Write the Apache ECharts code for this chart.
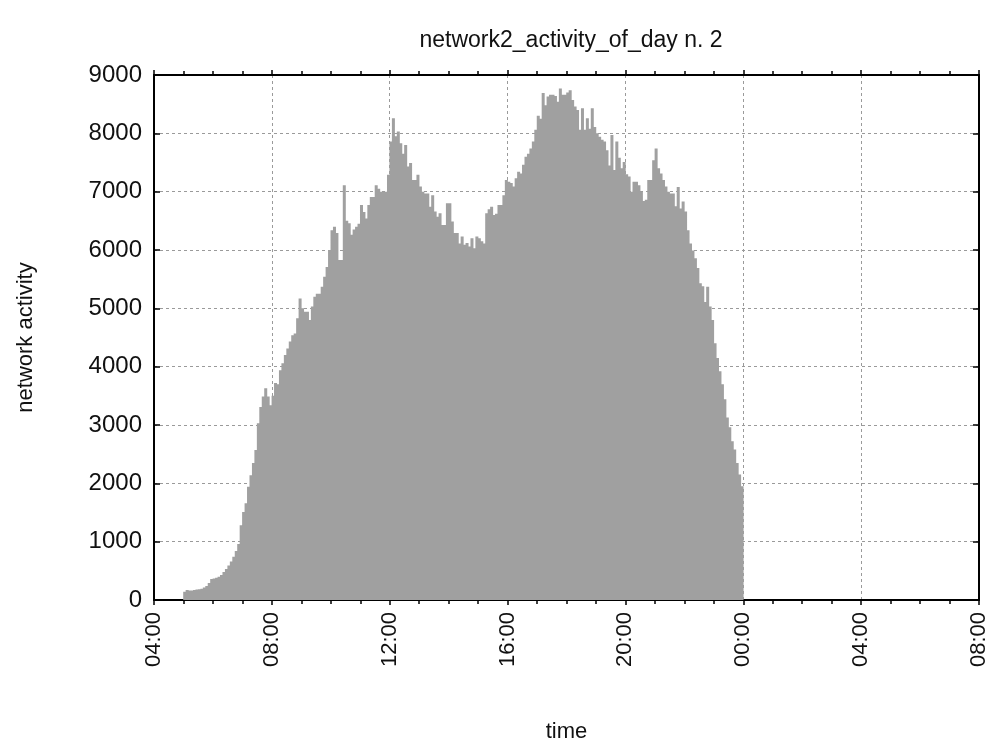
<!DOCTYPE html>
<html>
<head>
<meta charset="utf-8">
<script src="https://cdn.jsdelivr.net/npm/echarts@6/dist/echarts.min.js"></script>
<style>
  html, body { margin: 0; padding: 0; background: #fff; }
  #chart { width: 991px; height: 745px; }
</style>
</head>
<body>
<div id="chart"></div>
<script>
// Network activity per 5-minute bin, day 2
const chartTitle = 'network2_activity_of_day n. 2';
const xAxisName = 'time';
const yAxisName = 'network activity';

const firstBinHour = 5;     // first bin starts at 05:00
const binMinutes = 5;       // width of each bin

const xTickLabels = ['04:00', '08:00', '12:00', '16:00', '20:00', '00:00', '04:00', '08:00'];
const yTickValues = [0, 1000, 2000, 3000, 4000, 5000, 6000, 7000, 8000, 9000];

const activity = [
  // 05:00
  140, 170, 165, 165, 170, 180, 185, 195, 215, 240, 290, 360,
  // 06:00
  370, 380, 400, 430, 480, 530, 590, 660, 740, 840, 960, 1280,
  // 07:00
  1510, 1660, 1940, 2140, 2350, 2570, 3030, 3310, 3490, 3630, 3490, 3340,
  // 08:00
  3500, 3720, 3700, 3940, 4060, 4200, 4310, 4430, 4540, 4570, 4830, 5170,
  // 09:00
  5000, 4940, 4940, 4800, 5030, 5200, 5250, 5250, 5370, 5540, 5710, 6000,
  // 10:00
  6340, 6400, 6290, 5830, 5830, 7110, 6500, 6460, 6260, 6350, 6400, 6450,
  // 11:00
  6770, 6650, 6540, 6770, 6910, 6910, 7110, 7050, 7000, 7000, 7000, 7290,
  // 12:00
  7860, 8260, 7950, 8030, 7830, 7650, 7800, 7430, 7490, 7200, 7200, 7290,
  // 13:00
  7090, 7000, 6970, 6970, 6740, 6940, 6660, 6570, 6630, 6430, 6430, 6800,
  // 14:00
  6800, 6490, 6290, 6290, 6110, 6230, 6090, 6120, 6060, 6200, 6030, 6230,
  // 15:00
  6200, 6150, 6110, 6630, 6700, 6740, 6600, 6620, 6770, 6770, 6940, 7200,
  // 16:00
  7170, 7150, 7090, 7230, 7340, 7310, 7460, 7600, 7650, 7740, 7860, 8060,
  // 17:00
  8300, 8250, 8690, 8480, 8630, 8660, 8660, 8640, 8540, 8770, 8660, 8660,
  // 18:00
  8700, 8740, 8570, 8460, 8400, 8060, 8430, 8060, 8260, 8080, 8430, 8110,
  // 19:00
  8000, 7940, 7890, 7860, 7710, 7450, 7970, 7370, 7860, 7580, 7400, 7510,
  // 20:00
  7300, 7260, 7000, 7170, 7170, 7110, 7000, 6840, 6860, 7200, 7200, 7540,
  // 21:00
  7740, 7400, 7310, 7200, 7090, 7000, 6970, 6970, 6750, 7080, 6710, 6830,
  // 22:00
  6660, 6340, 6110, 5990, 5860, 5690, 5430, 5380, 5110, 5370, 5030, 4800,
  // 23:00
  4400, 4150, 3920, 3700, 3440, 3130, 2960, 2720, 2580, 2350, 2150, 1950
];

// x is hours since midnight of the day (04:00 .. 08:00 next day = 4 .. 32)
const barData = activity.map((v, i) => [firstBinHour + (i + 0.5) * binMinutes / 60, v]);

const FONT = '"Liberation Sans", Arial, Helvetica, sans-serif';
const INK = '#111';
const gridLine = { show: true, lineStyle: { color: '#9a9a9a', width: 1, type: [3, 3] } };
const frame = { show: true, onZero: false, lineStyle: { color: '#000', width: 2 } };

const chart = echarts.init(document.getElementById('chart'), null, { renderer: 'canvas' });
chart.setOption({
  animation: false,
  backgroundColor: '#fff',
  title: {
    text: chartTitle,
    left: 566,
    top: 24,
    textAlign: 'center',
    textStyle: { fontFamily: FONT, fontSize: 23, fontWeight: 'normal', color: INK }
  },
  grid: { left: 154, right: 12, top: 75, bottom: 145, containLabel: false, outerBoundsMode: 'none' },
  xAxis: [
    {
      type: 'value', position: 'bottom', min: 4, max: 32, interval: 4,
      name: xAxisName, nameLocation: 'middle', nameGap: 121,
      nameTextStyle: { fontFamily: FONT, fontSize: 22, color: INK },
      axisLine: frame,
      axisTick: { show: true, inside: false, length: 5, lineStyle: { color: '#000', width: 1.5 } },
      minorTick: { show: true, splitNumber: 4, length: 4, lineStyle: { color: '#000', width: 1.5 } },
      axisLabel: {
        rotate: 90, margin: 12, fontFamily: FONT, fontSize: 22, color: INK,
        formatter: v => xTickLabels[Math.round((v - 4) / 4)]
      },
      splitLine: gridLine
    },
    {
      type: 'value', position: 'top', min: 4, max: 32, interval: 4,
      axisLine: frame,
      axisTick: { show: true, inside: false, length: 5, lineStyle: { color: '#000', width: 1.5 } },
      minorTick: { show: true, splitNumber: 4, length: 4, lineStyle: { color: '#000', width: 1.5 } },
      axisLabel: { show: false },
      splitLine: { show: false }
    }
  ],
  yAxis: [
    {
      type: 'value', position: 'left', min: 0, max: 9000, interval: 1000,
      name: yAxisName, nameLocation: 'middle', nameGap: 117,
      nameTextStyle: { fontFamily: FONT, fontSize: 22, color: INK },
      axisLine: frame,
      axisTick: { show: true, inside: true, length: 6, lineStyle: { color: '#000', width: 1.5 } },
      axisLabel: {
        margin: 12, fontFamily: FONT, fontSize: 24, color: INK,
        formatter: v => (yTickValues.indexOf(v) >= 0 ? String(v) : '')
      },
      splitLine: gridLine
    },
    {
      type: 'value', position: 'right', min: 0, max: 9000, interval: 1000,
      axisLine: frame,
      axisTick: { show: true, inside: true, length: 6, lineStyle: { color: '#000', width: 1.5 } },
      axisLabel: { show: false },
      splitLine: { show: false }
    }
  ],
  series: [
    {
      type: 'bar',
      xAxisIndex: 0,
      yAxisIndex: 0,
      data: barData,
      barWidth: 3,
      large: true,
      largeThreshold: 50,
      itemStyle: { color: '#a0a0a0' },
      emphasis: { disabled: true },
      z: 1
    }
  ]
});
</script>
</body>
</html>
